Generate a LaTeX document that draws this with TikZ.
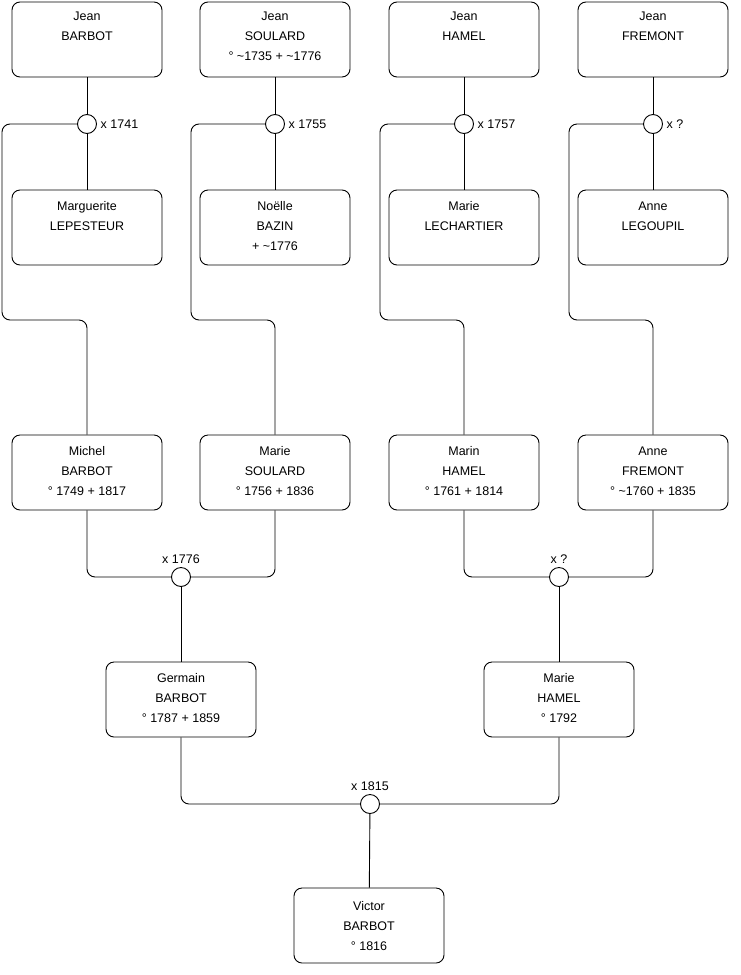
\documentclass[tikz,border=0pt]{standalone}
\usepackage{fontspec}
\setmainfont{Liberation Sans}
\usetikzlibrary{positioning}
\newcommand\fiche[2][20.5pt]{\parbox[c][75pt][t]{150pt}{\centering
  \fontsize{12.5}{20}\selectfont\rule{0pt}{#1}#2\par}}
\newcommand\ca{\textasciitilde}
\tikzset{
  x = 1pt, y = -1pt,
  every node/.style = {font = \fontsize{12.5}{15}\selectfont},
  person/.style = {draw, rounded corners = 8pt, inner sep = 0pt,
    minimum width = 150pt, minimum height = 75pt},
  union/.style = {draw, circle, fill = white, inner sep = 0pt,
    minimum size = 19pt},
  wire/.style = {rounded corners = 8pt}
}

\begin{document}
\begin{tikzpicture}[line width = 0.9pt]
\useasboundingbox (0,0) rectangle (740,975);

% great-grandparents
\node [person] (jeanB) at (87,39.5) {\fiche[18.5pt]{Jean\\BARBOT}};
\node [person] (jeanS) at (275,39.5) {\fiche[18.5pt]{Jean\\SOULARD\\° \ca1735 + \ca1776}};
\node [person] (jeanH) at (464,39.5) {\fiche[18.5pt]{Jean\\HAMEL}};
\node [person] (jeanF) at (653,39.5) {\fiche[18.5pt]{Jean\\FREMONT}};

\node [person] (margL) at (87,227.5) {\fiche{Marguerite\\LEPESTEUR}};
\node [person] (noelB) at (275,227.5) {\fiche{Noëlle\\BAZIN\\+ \ca1776}};
\node [person] (marieL) at (464,227.5) {\fiche{Marie\\LECHARTIER}};
\node [person] (anneL) at (653,227.5) {\fiche{Anne\\LEGOUPIL}};

\node [union, label = right:x 1741] (u1741) at (87,124) {};
\node [union, label = right:x 1755] (u1755) at (275,124) {};
\node [union, label = right:x 1757] (u1757) at (464,124) {};
\node [union, label = right:x ?] (uF) at (653,124) {};

% grandparents
\node [person] (michelB) at (87,472.5) {\fiche{Michel\\BARBOT\\° 1749 + 1817}};
\node [person] (marieS) at (275,472.5) {\fiche{Marie\\SOULARD\\° 1756 + 1836}};
\node [person] (marinH) at (464,472.5) {\fiche{Marin\\HAMEL\\° 1761 + 1814}};
\node [person] (anneF) at (653,472.5) {\fiche{Anne\\FREMONT\\° \ca1760 + 1835}};

\node [union, label = above:x 1776] (u1776) at (181,577) {};
\node [union, label = above:x ?] (uH) at (559,577) {};

% parents
\node [person] (germainB) at (181,699.5) {\fiche{Germain\\BARBOT\\° 1787 + 1859}};
\node [person] (marieH) at (559,699.5) {\fiche{Marie\\HAMEL\\° 1792}};

\node [union, label = above:x 1815] (u1815) at (370,804) {};

\node [person] (victorB) at (369,925.5) {\fiche[22pt]{Victor\\BARBOT\\° 1816}};

% links
\draw (jeanB) -- (u1741) -- (margL);
\draw (jeanS) -- (u1755) -- (noelB);
\draw (jeanH) -- (u1757) -- (marieL);
\draw (jeanF) -- (uF) -- (anneL);

\draw [wire] (u1741.west) -| (2,320) -| (michelB.north);
\draw [wire] (u1755.west) -| (191,320) -| (marieS.north);
\draw [wire] (u1757.west) -| (380,320) -| (marinH.north);
\draw [wire] (uF.west) -| (569,320) -| (anneF.north);

\draw [wire] (michelB.south) |- (u1776.west);
\draw [wire] (marieS.south) |- (u1776.east);
\draw [wire] (marinH.south) |- (uH.west);
\draw [wire] (anneF.south) |- (uH.east);
\draw (u1776) -- (germainB);
\draw (uH) -- (marieH);

\draw [wire] (germainB.south) |- (u1815.west);
\draw [wire] (marieH.south) |- (u1815.east);
\draw (u1815) -- (victorB);

\end{tikzpicture}
\end{document}
